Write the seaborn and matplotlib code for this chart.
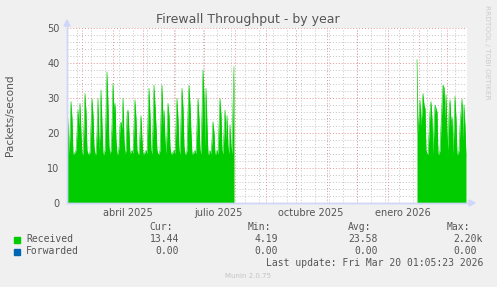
import matplotlib
matplotlib.use("Agg")
import numpy as np
import pandas as pd
import matplotlib.pyplot as plt
import matplotlib.dates as mdates
from matplotlib.patches import Rectangle, Polygon
import seaborn as sns

# ---------------- data ----------------
title = "Firewall Throughput - by year"
y_label = "Packets/second"
seg1_start = "2025-02-14 12:00"
received_seg1 = [
    28, 22, 14, 20, 29, 24, 14, 14, 14.5,
    15, 20, 26.6, 22, 28.5, 20, 14, 14, 22, 31.3,
    26, 15, 14, 14, 14.5, 22, 29.9, 25, 16, 14,
    14, 20, 29.9, 15, 20, 32.3, 22, 14, 14, 15,
    25, 37.5, 28, 16, 14, 15, 22, 34.2, 26, 28.5,
    18, 14, 14, 16, 22, 23.2, 21, 30, 18, 14,
    15, 25, 26.6, 20, 14, 14.5, 15, 14, 22,
    29.5, 24, 15, 14, 14, 20, 25, 18, 14, 14,
    14.5, 15, 14, 24, 32.8, 25, 15, 14, 22, 33.7,
    28, 22, 15, 14, 14, 15, 25, 33.7, 22, 26.6,
    18, 14, 20, 28.5, 25, 16, 14, 14, 14.5, 15,
    14, 22, 29.9, 24, 15, 14, 24, 32.8, 27, 16,
    14, 14, 15, 26, 33.7, 28, 20, 14, 14, 14.5,
    15, 14, 22, 29.9, 24, 15, 14, 26, 38, 30,
    16, 32.8, 22, 14, 14, 15, 14, 18, 23.2, 20,
    14, 14, 15, 14, 22, 29.9, 25, 15, 14, 20,
    26.6, 18, 25, 16, 14, 22.4, 16, 14, 28, 39,
]
seg2_start = "2026-01-30 12:00"
received_seg2 = [
    41, 20, 24, 29.4, 22, 26, 31.3, 28, 27, 15,
    14, 14, 20, 26, 29, 24, 14, 22, 28, 27,
    26, 14, 14, 15, 22, 28, 33.7, 33, 24, 31,
    20, 15, 26, 29.5, 22, 24.7, 14, 22, 30.5, 24,
    14, 14, 15, 22, 26, 29.7, 18, 28, 22, 13.44,
]
forwarded_value = 0.0
month_labels = ["abril 2025", "julio 2025", "octubre 2025", "enero 2026"]
month_label_dates = ["2025-04-16", "2025-07-16", "2025-10-16", "2026-01-16"]
y_ticks = [0, 10, 20, 30, 40, 50]
legend_names = ["Received", "Forwarded"]
legend_colors = ["#00CC00", "#0066B3"]
stat_headers = ["Cur:", "Min:", "Avg:", "Max:"]
stats_received = ["13.44", "4.19", "23.58", "2.20k"]
stats_forwarded = ["0.00", "0.00", "0.00", "0.00"]
last_update = "Last update: Fri Mar 20 01:05:23 2026"
footer = "Munin 2.0.75"
watermark = "RRDTOOL / TOBI OETIKER"

# ---------------- frame ----------------
W, H = 497, 287
sns.set_style("white")
plt.rcParams["font.family"] = ["DejaVu Sans"]
fig = plt.figure(figsize=(W / 100, H / 100), dpi=100, facecolor="#F0F0F0")

def fx(x):
    return x / W

def fy(y):
    return 1 - y / H

L, R, T, B = 67, 467, 28, 203
ax = fig.add_axes([fx(L), fy(B), (R - L) / W, (B - T) / H])
ax.set_facecolor("white")

d1 = pd.date_range(seg1_start, periods=len(received_seg1), freq="D")
d2 = pd.date_range(seg2_start, periods=len(received_seg2), freq="D")
df = pd.concat([
    pd.DataFrame({"date": d1, "value": received_seg1, "seg": 1}),
    pd.DataFrame({"date": d2, "value": received_seg2, "seg": 2}),
])

x0 = pd.Timestamp("2025-02-14 12:00")
x1 = pd.Timestamp("2026-03-21 12:00")

text_col = "#555555"
grid_minor = "#C4C4C4"
grid_major = "#E49494"

# grid
for gd in pd.date_range("2025-02-24", x1, freq="14D"):
    ax.axvline(gd, color=grid_minor, lw=0.7, ls=(0, (1, 2)), zorder=0.5)
for md in pd.date_range("2025-03-01", x1, freq="MS"):
    ax.axvline(md, color=grid_major, lw=0.7, ls=(0, (1, 2)), zorder=0.6)
for yv in np.arange(2, 50, 2):
    if yv % 10:
        ax.axhline(yv, color=grid_minor, lw=0.7, ls=(0, (1, 2)), zorder=0.5)
for yv in y_ticks[1:]:
    ax.axhline(yv, color=grid_major, lw=0.7, ls=(0, (1, 2)), zorder=0.6)

# series
for seg, sub in df.groupby("seg"):
    ax.fill_between(sub["date"], 0, sub["value"], color=legend_colors[0], lw=0, zorder=2)
sns.lineplot(data=df, x="date", y="value", units="seg", estimator=None,
             color=legend_colors[0], lw=0.4, ax=ax, zorder=2.1)
fw = pd.DataFrame({"date": [x0, x1], "value": [forwarded_value] * 2})
sns.lineplot(data=fw, x="date", y="value", color=legend_colors[1], lw=0.0, ax=ax)

ax.set_xlim(x0, x1)
ax.set_ylim(0, 50)
ax.set_xlabel("")
ax.set_ylabel("")
ax.set_yticks(y_ticks)
ax.set_yticklabels([str(v) for v in y_ticks])
ax.tick_params(axis="y", length=0, pad=5.5, labelsize=7, labelcolor=text_col)
ax.set_xticks(pd.date_range("2025-03-01", x1, freq="MS"))
ax.set_xticklabels([])
ax.tick_params(axis="x", which="major", length=2.5, color="#F08080", width=0.7)
ax.set_xticks(pd.date_range("2025-02-24", x1, freq="14D"), minor=True)
ax.tick_params(axis="x", which="minor", length=2, color="#C0C0C0", width=0.7)

for s in ["top", "right"]:
    ax.spines[s].set_visible(False)
for s in ["left", "bottom"]:
    ax.spines[s].set_color("#CFD6F8")
    ax.spines[s].set_linewidth(1.0)

for lab, dt in zip(month_labels, month_label_dates):
    xd = mdates.date2num(pd.Timestamp(dt))
    ax.text(xd, -0.055, lab, transform=ax.get_xaxis_transform(), ha="center",
            va="center", fontsize=7, color=text_col)

# axis extensions and arrows
fig.add_artist(plt.Line2D([fx(L), fx(L)], [fy(B), fy(22)], color="#CFD6F8", lw=1.0))
fig.add_artist(plt.Line2D([fx(L), fx(471)], [fy(B), fy(B)], color="#CFD6F8", lw=1.0))
fig.add_artist(Polygon([[fx(64), fy(26)], [fx(70), fy(26)], [fx(67), fy(20)]],
                       closed=True, color="#CFD6F8", transform=fig.transFigure))
fig.add_artist(Polygon([[fx(469), fy(200)], [fx(469), fy(206)], [fx(475), fy(203)]],
                       closed=True, color="#CFD6F8", transform=fig.transFigure))

# titles
fig.text(fx(248), fy(19), title, ha="center", va="center", fontsize=9, color=text_col)
fig.text(fx(10), fy(115.5), y_label, ha="center", va="center", rotation=90,
         fontsize=7.6, color=text_col)
fig.text(fx(487), fy(5), watermark, ha="center", va="top", rotation=270,
         fontsize=5.3, color="#CCCCCC")

# legend block
mono = "DejaVu Sans Mono"
cw = 5.9
col_right = [179, 278, 378, 477]
header_left = [149, 248, 348, 447]
for hdr, xl in zip(stat_headers, header_left):
    fig.text(fx(xl), fy(227.5), hdr, ha="left", va="center", fontsize=7,
             family=mono, color=text_col)
rows_y = [239.5, 251.5]
for name, col, yy, stats in zip(legend_names, legend_colors, rows_y,
                                [stats_received, stats_forwarded]):
    fig.add_artist(Rectangle((fx(14), fy(yy + 3)), 6 / W, 6 / H, color=col,
                             transform=fig.transFigure))
    fig.text(fx(26), fy(yy), name, ha="left", va="center", fontsize=7,
             family=mono, color=text_col)
    for sv, xr in zip(stats, col_right):
        num = sv.rstrip("k")
        fig.text(fx(xr - len(num) * cw), fy(yy), sv, ha="left", va="center",
                 fontsize=7, family=mono, color=text_col)
fig.text(fx(483), fy(263.3), last_update, ha="right", va="center", fontsize=7,
         family=mono, color=text_col)
fig.text(fx(248), fy(276), footer, ha="center", va="center", fontsize=5,
         color="#C4C4C4")

fig.savefig("out.png", dpi=100, facecolor=fig.get_facecolor())
